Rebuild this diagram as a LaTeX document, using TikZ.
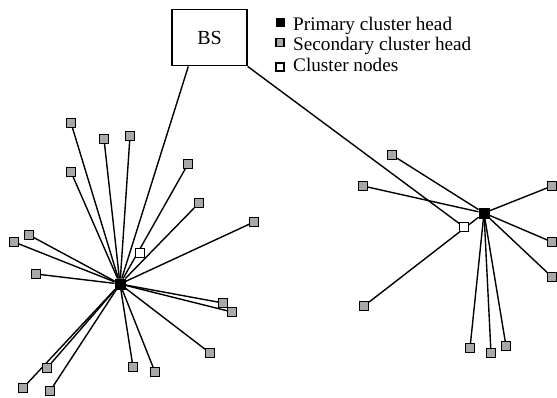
\documentclass[tikz,border=0pt]{standalone}
\usepackage{fontspec}
\setmainfont{Liberation Serif}
\usetikzlibrary{backgrounds}
\definecolor{shgray}{RGB}{168,168,168}
\tikzset{
  sec/.style={draw=black, fill=shgray, rectangle, minimum size=8.5pt, inner sep=0pt, line width=1.4pt},
  cln/.style={draw=black, fill=white, rectangle, minimum size=8.5pt, inner sep=0pt, line width=1.4pt},
  phead/.style={draw=black, fill=black, rectangle, minimum size=10.5pt, inner sep=0pt},
  link/.style={line width=1.4pt, black},
  legtxt/.style={anchor=base west, inner sep=0pt, font=\fontsize{19.2}{22}\selectfont},
  bsbox/.style={draw=black, line width=1.4pt, rectangle, minimum width=75pt, minimum height=56.5pt, inner sep=0pt, font=\fontsize{20}{22}\selectfont}
}
\begin{document}
\begin{tikzpicture}[x=1pt,y=-1pt]
\useasboundingbox (0,0) rectangle (557,397);
% Base station
\node[bsbox] (bs) at (209.5,37.5) {BS};
% Legend
\node[phead, minimum size=8pt] (lg1) at (280,22) {};
\node[sec, minimum size=8pt] (lg2) at (280,42.5) {};
\node[cln, minimum size=8pt] (lg3) at (280,67) {};
\node[legtxt] (lt1) at (293,30) {Primary cluster head};
\node[legtxt] (lt2) at (293,50.5) {Secondary cluster head};
\node[legtxt] (lt3) at (293,71.5) {Cluster nodes};
% Left cluster
\node[phead] (h1) at (120,284) {};
\node[cln] (w1) at (140,253) {};
\foreach \n/\x/\y in {a1/71/123, a2/104/139, a3/130/136, a4/71/172, a5/188/164,
  a6/199/203, a7/254/222, a8/29/235, a9/14/242, a10/36/274, a11/223/303,
  a12/232/312, a13/210/353, a14/133/367, a15/155/372, a16/47/368, a17/23/388, a18/50/391}
  {\node[sec] (\n) at (\x,\y) {};}
% Right cluster
\node[phead] (h2) at (484,213) {};
\node[cln] (w2) at (464,227) {};
\foreach \n/\x/\y in {b1/392/155, b2/363/186, b3/552/186, b4/552/242, b5/552/277,
  b6/364/306, b7/470/348, b8/491/353, b9/506/346}
  {\node[sec] (\n) at (\x,\y) {};}
% Links
\begin{scope}[on background layer]
\foreach \n in {a1,a2,a3,a4,a5,a6,a7,a8,a9,a10,a11,a12,a13,a14,a15,a16,a17,a18}
  {\draw[link] (\n) -- (h1);}
\foreach \n in {b1,b2,b3,b4,b5,b6,b7,b8,b9}
  {\draw[link] (\n) -- (h2);}
\draw[link] ([xshift=17pt]bs.south west) -- (h1);
\draw[link] (bs.south east) -- (w2);
\end{scope}
\end{tikzpicture}
\end{document}
